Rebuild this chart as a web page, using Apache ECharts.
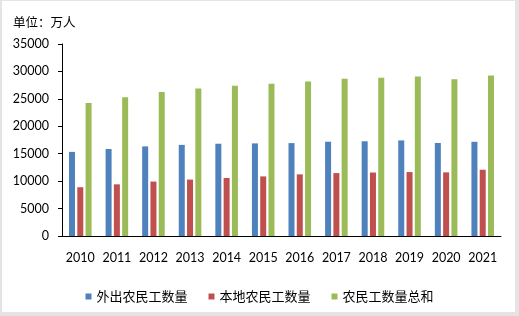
<!DOCTYPE html>
<html>
<head>
<meta charset="utf-8">
<script src="https://cdn.jsdelivr.net/npm/echarts@6/dist/echarts.min.js"></script>
<style>
    html, body { margin: 0; padding: 0; background: #e4e4e4; }
    #frame { position: absolute; left: 2px; top: 1px; width: 513px; height: 311px; background: #fff; }
    #main { position: absolute; left: -2px; top: -1px; width: 519px; height: 316px; }
</style>
</head>
<body>
<div id="frame"><div id="main"></div></div>
<script>
    // 年份
    var years = ['2010', '2011', '2012', '2013', '2014', '2015', '2016', '2017', '2018', '2019', '2020', '2021'];
    // 外出农民工数量（万人）
    var outMigrants = [15335, 15863, 16336, 16610, 16821, 16884, 16934, 17185, 17266, 17425, 16959, 17172];
    // 本地农民工数量（万人）
    var localMigrants = [8888, 9415, 9925, 10284, 10574, 10863, 11237, 11467, 11570, 11652, 11601, 12079];
    // 农民工数量总和
    var totalMigrants = [24223, 25278, 26261, 26894, 27395, 27747, 28171, 28652, 28836, 29077, 28560, 29251];

    var numFont = 'Lato';
    var cjkFont = '"Noto Sans CJK SC"';

    var myChart = echarts.init(document.getElementById('main'));

    myChart.setOption({
        animation: false,
        title: {
            text: '单位：万人',
            left: 8,
            top: 11,
            textStyle: { fontSize: 12.5, fontWeight: 'normal', color: '#000', fontFamily: cjkFont }
        },
        legend: {
            data: ['外出农民工数量', '本地农民工数量', '农民工数量总和'],
            left: 'center',
            top: 285,
            icon: 'rect',
            itemWidth: 6,
            itemHeight: 6,
            itemGap: 21,
            textStyle: { fontSize: 13, color: '#000', fontFamily: cjkFont }
        },
        grid: { left: 62, right: 18, top: 44, bottom: 80 },
        xAxis: {
            type: 'category',
            data: years,
            axisLine: { lineStyle: { color: '#000', width: 1 } },
            axisTick: { inside: true, length: 4, lineStyle: { color: '#000' } },
            axisLabel: { interval: 0, margin: 15, fontSize: 12.5, color: '#000', fontFamily: numFont }
        },
        yAxis: {
            type: 'value',
            min: 0,
            max: 35000,
            interval: 5000,
            splitLine: { show: false },
            axisLine: { show: true, lineStyle: { color: '#000', width: 1 } },
            axisTick: { show: true, length: 4, lineStyle: { color: '#000' } },
            axisLabel: {
                margin: 13, fontSize: 12.5, color: '#000', fontFamily: numFont,
                formatter: function (v) { return String(v); }
            }
        },
        series: [
            {
                name: '外出农民工数量', type: 'bar', data: outMigrants,
                barWidth: 6, barGap: '38%',
                itemStyle: { color: '#4F81BD' }
            },
            {
                name: '本地农民工数量', type: 'bar', data: localMigrants,
                barWidth: 6, barGap: '38%',
                itemStyle: { color: '#C0504D' }
            },
            {
                name: '农民工数量总和', type: 'bar', data: totalMigrants,
                barWidth: 6, barGap: '38%',
                itemStyle: { color: '#9BBB59' }
            }
        ]
    });
</script>
</body>
</html>
